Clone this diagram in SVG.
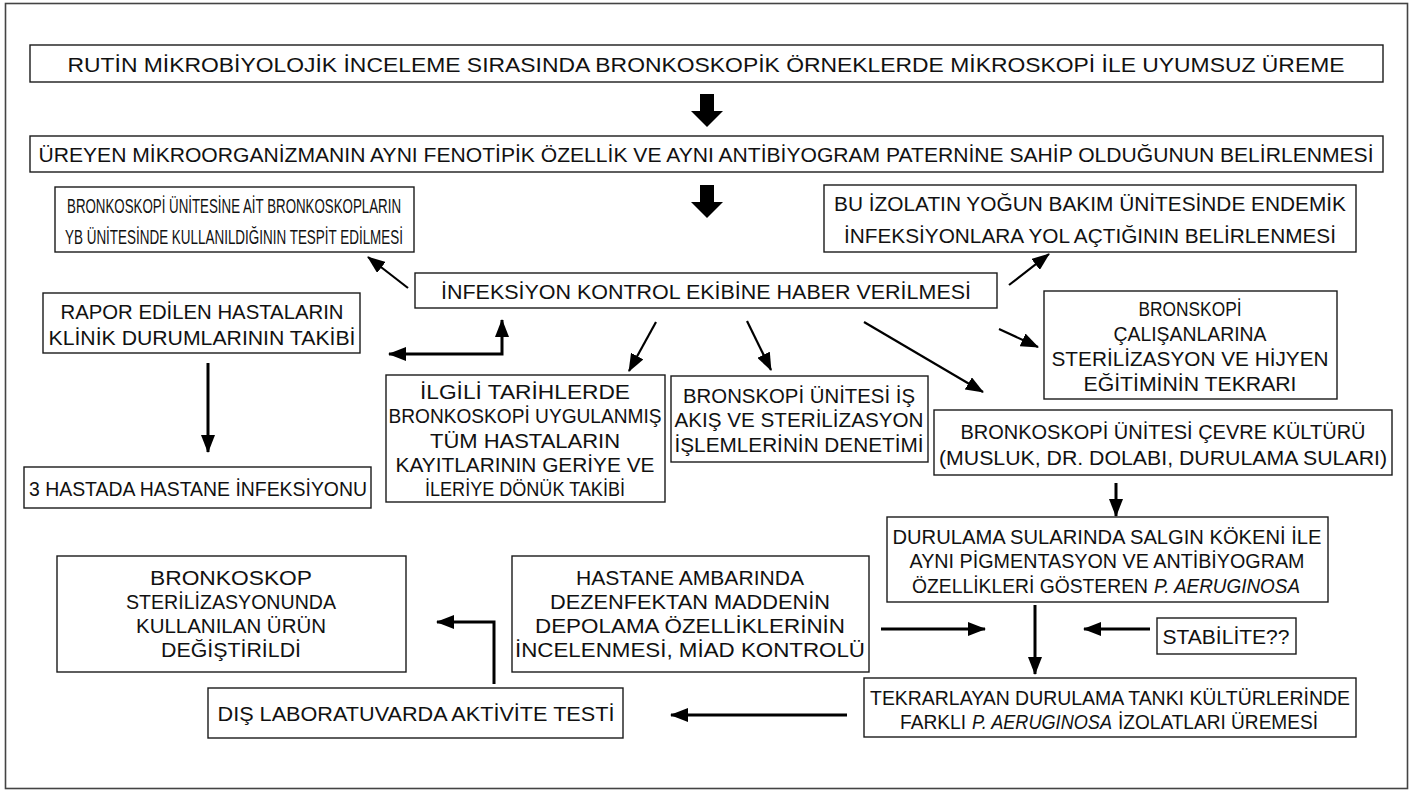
<svg xmlns="http://www.w3.org/2000/svg" width="1414" height="793" viewBox="0 0 1414 793">
<defs>
<style>
.box{fill:#fff;stroke:#1a1a1a;stroke-width:1.4}
.frame{fill:#fff;stroke:#444;stroke-width:1.6}
text{font-family:"Liberation Sans",Arial,sans-serif;font-size:20.5px;fill:#111;text-anchor:middle;dominant-baseline:central}
.st{text-anchor:start}
.it{font-style:italic}
.thin{stroke:#000;stroke-width:2.2;fill:none;marker-end:url(#ah)}
.bold{stroke:#000;stroke-width:3;fill:none;marker-end:url(#ah)}
.big{fill:#000}
</style>
<marker id="ah" markerUnits="userSpaceOnUse" markerWidth="18" markerHeight="14" refX="17" refY="7" orient="auto-start-reverse"><path d="M0,0 L18,7 L0,14 z" fill="#000"/></marker>
</defs>
<rect class="frame" x="5.5" y="3.5" width="1402" height="785"/>

<g id="n1"><rect class="box" x="30" y="45" width="1353" height="37"/><text x="706" y="64" textLength="1277" lengthAdjust="spacingAndGlyphs">RUTİN MİKROBİYOLOJİK İNCELEME SIRASINDA BRONKOSKOPİK ÖRNEKLERDE MİKROSKOPİ İLE UYUMSUZ ÜREME</text></g>
<g id="n2"><rect class="box" x="30" y="136" width="1353" height="36"/><text x="706" y="154" textLength="1335" lengthAdjust="spacingAndGlyphs">ÜREYEN MİKROORGANİZMANIN AYNI FENOTİPİK ÖZELLİK VE AYNI ANTİBİYOGRAM PATERNİNE SAHİP OLDUĞUNUN BELİRLENMESİ</text></g>
<g id="n3"><rect class="box" x="55" y="187" width="359" height="65"/><text x="234" y="205" textLength="334" lengthAdjust="spacingAndGlyphs">BRONKOSKOPİ ÜNİTESİNE AİT BRONKOSKOPLARIN</text><text x="234" y="236" textLength="338" lengthAdjust="spacingAndGlyphs">YB ÜNİTESİNDE KULLANILDIĞININ TESPİT EDİLMESİ</text></g>
<g id="n4"><rect class="box" x="824" y="185" width="532" height="67"/><text x="1090" y="203" textLength="512" lengthAdjust="spacingAndGlyphs">BU İZOLATIN YOĞUN BAKIM ÜNİTESİNDE ENDEMİK</text><text x="1090" y="235" textLength="492" lengthAdjust="spacingAndGlyphs">İNFEKSİYONLARA YOL AÇTIĞININ BELİRLENMESİ</text></g>
<g id="n5"><rect class="box" x="415" y="273" width="582" height="35"/><text x="706" y="291" textLength="530" lengthAdjust="spacingAndGlyphs">İNFEKSİYON KONTROL EKİBİNE HABER VERİLMESİ</text></g>
<g id="n6"><rect class="box" x="43" y="293" width="317" height="60"/><text x="202" y="311" textLength="283" lengthAdjust="spacingAndGlyphs">RAPOR EDİLEN HASTALARIN</text><text x="202" y="337" textLength="307" lengthAdjust="spacingAndGlyphs">KLİNİK DURUMLARININ TAKİBİ</text></g>
<g id="n7"><rect class="box" x="1044" y="291" width="293" height="108"/><text x="1190" y="308" textLength="103" lengthAdjust="spacingAndGlyphs">BRONSKOPİ</text><text x="1190" y="333" textLength="153" lengthAdjust="spacingAndGlyphs">ÇALIŞANLARINA</text><text x="1190" y="358" textLength="277" lengthAdjust="spacingAndGlyphs">STERİLİZASYON VE HİJYEN</text><text x="1190" y="383" textLength="213" lengthAdjust="spacingAndGlyphs">EĞİTİMİNİN TEKRARI</text></g>
<g id="n8"><rect class="box" x="386" y="375" width="279" height="127"/><text x="525" y="391" textLength="210" lengthAdjust="spacingAndGlyphs">İLGİLİ TARİHLERDE</text><text x="525" y="415" textLength="273" lengthAdjust="spacingAndGlyphs">BRONKOSKOPİ UYGULANMIŞ</text><text x="525" y="440" textLength="190" lengthAdjust="spacingAndGlyphs">TÜM HASTALARIN</text><text x="525" y="464" textLength="259" lengthAdjust="spacingAndGlyphs">KAYITLARININ GERİYE VE</text><text x="525" y="488" textLength="200" lengthAdjust="spacingAndGlyphs">İLERİYE DÖNÜK TAKİBİ</text></g>
<g id="n9"><rect class="box" x="671" y="376" width="257" height="86"/><text x="799" y="395" textLength="232" lengthAdjust="spacingAndGlyphs">BRONSKOPİ ÜNİTESİ İŞ</text><text x="799" y="419" textLength="249" lengthAdjust="spacingAndGlyphs">AKIŞ VE STERİLİZASYON</text><text x="799" y="444" textLength="249" lengthAdjust="spacingAndGlyphs">İŞLEMLERİNİN DENETİMİ</text></g>
<g id="n10"><rect class="box" x="934" y="410" width="458" height="65"/><text x="1163" y="431" textLength="405" lengthAdjust="spacingAndGlyphs">BRONKOSKOPİ ÜNİTESİ ÇEVRE KÜLTÜRÜ</text><text x="1163" y="457" textLength="448" lengthAdjust="spacingAndGlyphs">(MUSLUK, DR. DOLABI, DURULAMA SULARI)</text></g>
<g id="n11"><rect class="box" x="24" y="467" width="347" height="41"/><text x="198" y="488" textLength="338" lengthAdjust="spacingAndGlyphs">3 HASTADA HASTANE İNFEKSİYONU</text></g>
<g id="n12"><rect class="box" x="887" y="517" width="441" height="85"/><text x="1107" y="536" textLength="429" lengthAdjust="spacingAndGlyphs">DURULAMA SULARINDA SALGIN KÖKENİ İLE</text><text x="1107" y="560" textLength="395" lengthAdjust="spacingAndGlyphs">AYNI PİGMENTASYON VE ANTİBİYOGRAM</text><text class="st" x="912" y="585" textLength="236" lengthAdjust="spacingAndGlyphs">ÖZELLİKLERİ GÖSTEREN</text><text class="st it" x="1154" y="585" textLength="146" lengthAdjust="spacingAndGlyphs">P. AERUGINOSA</text></g>
<g id="n13"><rect class="box" x="57" y="556" width="349" height="116"/><text x="231" y="577" textLength="162" lengthAdjust="spacingAndGlyphs">BRONKOSKOP</text><text x="231" y="601" textLength="210" lengthAdjust="spacingAndGlyphs">STERİLİZASYONUNDA</text><text x="231" y="625" textLength="190" lengthAdjust="spacingAndGlyphs">KULLANILAN ÜRÜN</text><text x="231" y="649" textLength="140" lengthAdjust="spacingAndGlyphs">DEĞİŞTİRİLDİ</text></g>
<g id="n14"><rect class="box" x="512" y="556" width="357" height="116"/><text x="690" y="577" textLength="228" lengthAdjust="spacingAndGlyphs">HASTANE AMBARINDA</text><text x="690" y="601" textLength="280" lengthAdjust="spacingAndGlyphs">DEZENFEKTAN MADDENİN</text><text x="690" y="625" textLength="310" lengthAdjust="spacingAndGlyphs">DEPOLAMA ÖZELLİKLERİNİN</text><text x="690" y="649" textLength="350" lengthAdjust="spacingAndGlyphs">İNCELENMESİ, MİAD KONTROLÜ</text></g>
<g id="n15"><rect class="box" x="1157" y="618" width="139" height="36"/><text x="1226" y="636" textLength="127" lengthAdjust="spacingAndGlyphs">STABİLİTE??</text></g>
<g id="n16"><rect class="box" x="864" y="678" width="492" height="59"/><text x="1110" y="697" textLength="480" lengthAdjust="spacingAndGlyphs">TEKRARLAYAN DURULAMA TANKI KÜLTÜRLERİNDE</text><text class="st" x="900" y="721" textLength="66" lengthAdjust="spacingAndGlyphs">FARKLI</text><text class="st it" x="972" y="721" textLength="140" lengthAdjust="spacingAndGlyphs">P. AERUGINOSA</text><text class="st" x="1118" y="721" textLength="200" lengthAdjust="spacingAndGlyphs">İZOLATLARI ÜREMESİ</text></g>
<g id="n17"><rect class="box" x="208" y="688" width="415" height="50"/><text x="416" y="713" textLength="397" lengthAdjust="spacingAndGlyphs">DIŞ LABORATUVARDA AKTİVİTE TESTİ</text></g>

<g id="connectors">
<polygon class="big" points="700,94 714,94 714,111 723,111 707,127 691,111 700,111"/>
<polygon class="big" points="700,185 714,185 714,202 723,202 707,218 691,202 700,202"/>
<line class="thin" x1="408" y1="288" x2="368" y2="257"/>
<line class="thin" x1="1009" y1="285" x2="1049" y2="254"/>
<path class="bold" d="M502,320 L502,354 L389,354" marker-start="url(#ah)"/>
<line class="thin" x1="656" y1="322" x2="629" y2="371"/>
<line class="thin" x1="747" y1="321" x2="771" y2="370"/>
<line class="thin" x1="864" y1="322" x2="983" y2="392"/>
<line class="thin" x1="999" y1="329" x2="1038" y2="347"/>
<line class="bold" x1="208" y1="363" x2="208" y2="452"/>
<line class="bold" x1="1116" y1="483" x2="1116" y2="516"/>
<line class="bold" x1="881" y1="629" x2="985" y2="629"/>
<line class="bold" x1="1035" y1="605" x2="1035" y2="674"/>
<line class="bold" x1="1150" y1="629" x2="1084" y2="629"/>
<line class="bold" x1="847" y1="715" x2="671" y2="715"/>
<path class="bold" d="M494,684 L494,622 L437,622"/>
</g>
</svg>
